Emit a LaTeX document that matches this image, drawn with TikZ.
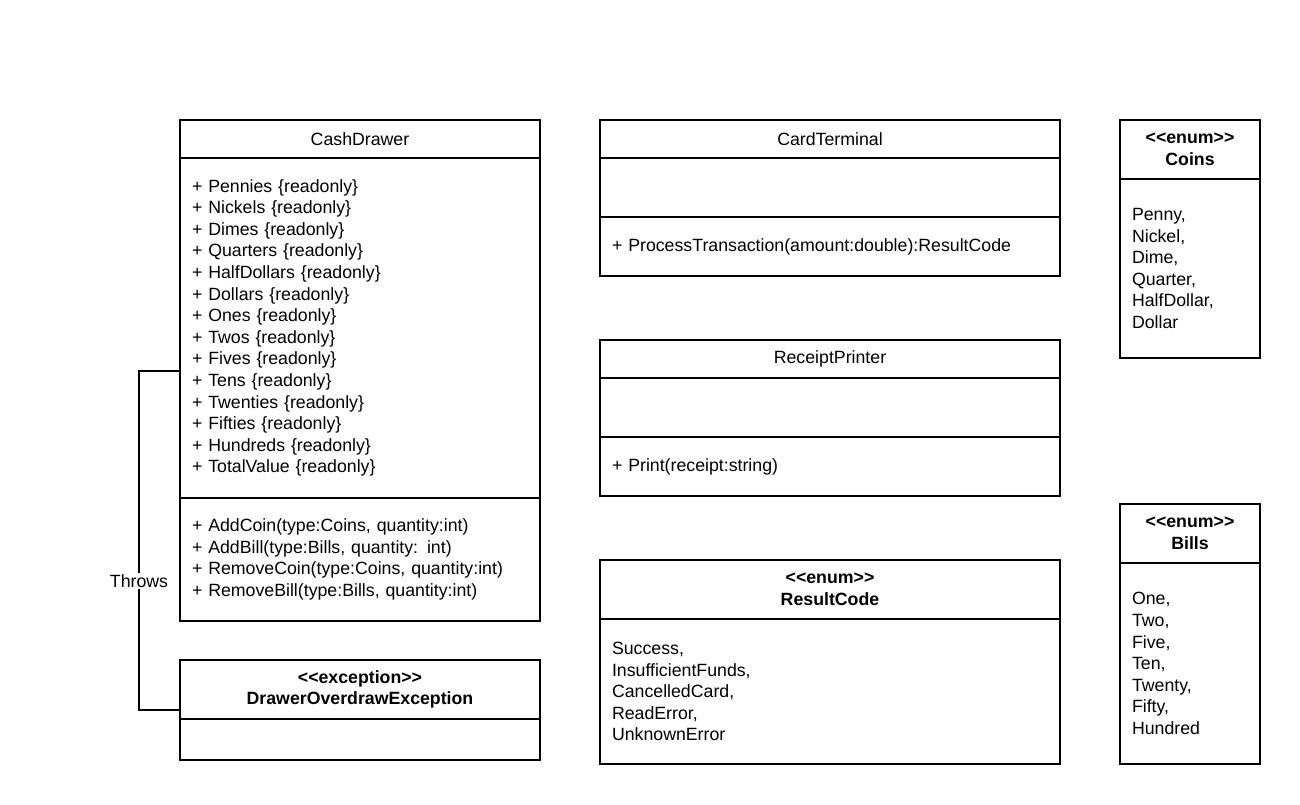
\documentclass[tikz,border=0pt]{standalone}
\usepackage{fontspec}
\setmainfont{Liberation Sans}
\usetikzlibrary{positioning,calc}
\def\boxsep{0pt}
\def\stereo#1{\textless\kern0pt\textless#1\textgreater\kern0pt\textgreater}

\begin{document}
\begin{tikzpicture}[x=0.75pt,y=-0.75pt,line width=1.1pt,node distance=\boxsep]
            \tikzstyle{compartment}=[draw,rectangle,outer sep=0pt,inner xsep=9pt,inner ysep=0pt,font=\fontsize{13.3pt}{16.2pt}\selectfont]
            \tikzstyle{head}=[compartment,align=center,anchor=north west]
            \tikzstyle{body}=[compartment,align=left]

            \useasboundingbox (0,0) rectangle (1300,804);

            % Draw the CashDrawer class
            \node[head, text width=252pt, minimum height=28.5pt] (CashDrawer) at (180,120) {CashDrawer};
            \node[body, text width=252pt, minimum height=255pt, below=of CashDrawer] (CashAttr)
                {+ Pennies \{readonly\}\\+ Nickels \{readonly\}\\+ Dimes \{readonly\}\\+ Quarters \{readonly\}\\
                 + HalfDollars \{readonly\}\\+ Dollars \{readonly\}\\+ Ones \{readonly\}\\+ Twos \{readonly\}\\
                 + Fives \{readonly\}\\+ Tens \{readonly\}\\+ Twenties \{readonly\}\\+ Fifties \{readonly\}\\
                 + Hundreds \{readonly\}\\+ TotalValue \{readonly\}};
            \node[body, text width=252pt, minimum height=92.25pt, below=of CashAttr] (CashOps)
                {+ AddCoin(type:Coins, quantity:int)\\+ AddBill(type:Bills, quantity: int)\\
                 + RemoveCoin(type:Coins, quantity:int)\\+ RemoveBill(type:Bills, quantity:int)};

            % Draw the exception
            \node[head, text width=252pt, minimum height=44.25pt, font=\fontsize{13.3pt}{16.2pt}\selectfont\bfseries] (Exception) at (180,660)
                {\stereo{exception}\\DrawerOverdrawException};
            \node[body, text width=252pt, minimum height=30.75pt, below=of Exception] (ExceptionBody) {};

            % Draw the CardTerminal and ReceiptPrinter classes
            \node[head, text width=327pt, minimum height=28.5pt] (CardTerminal) at (600,120) {CardTerminal};
            \node[body, text width=327pt, minimum height=44.25pt, below=of CardTerminal] (CardAttr) {};
            \node[body, text width=327pt, minimum height=44.25pt, below=of CardAttr] (CardOps)
                {+ ProcessTransaction(amount:double):ResultCode};

            \node[head, text width=327pt, minimum height=28.5pt] (ReceiptPrinter) at (600,340) {ReceiptPrinter};
            \node[body, text width=327pt, minimum height=44.25pt, below=of ReceiptPrinter] (PrinterAttr) {};
            \node[body, text width=327pt, minimum height=44.25pt, below=of PrinterAttr] (PrinterOps)
                {+ Print(receipt:string)};

            % Draw the enums
            \node[head, text width=327pt, minimum height=44.25pt, font=\fontsize{13.3pt}{16.2pt}\selectfont\bfseries] (ResultCode) at (600,560)
                {\stereo{enum}\\ResultCode};
            \node[body, text width=327pt, minimum height=108.75pt, below=of ResultCode] (ResultValues)
                {Success,\\InsufficientFunds,\\CancelledCard,\\ReadError,\\UnknownError};

            \node[head, text width=87pt, minimum height=44.25pt, font=\fontsize{13.3pt}{16.2pt}\selectfont\bfseries] (Coins) at (1120,120)
                {\stereo{enum}\\Coins};
            \node[body, text width=87pt, minimum height=134.25pt, below=of Coins] (CoinValues)
                {Penny,\\Nickel,\\Dime,\\Quarter,\\HalfDollar,\\Dollar};

            \node[head, text width=87pt, minimum height=44.25pt, font=\fontsize{13.3pt}{16.2pt}\selectfont\bfseries] (Bills) at (1120,504)
                {\stereo{enum}\\Bills};
            \node[body, text width=87pt, minimum height=150.75pt, below=of Bills] (BillValues)
                {One,\\Two,\\Five,\\Ten,\\Twenty,\\Fifty,\\Hundred};

            % Throws connector
            \coordinate (ThrowsFrom) at (180,371);
            \coordinate (ThrowsTo) at ($(Exception.north west)!0.5!(ExceptionBody.south west)$);
            \draw (ThrowsFrom) -- ++(-41,0) |- (ThrowsTo)
                node[pos=0.31, fill=white, inner sep=1pt, font=\fontsize{13.3pt}{16.2pt}\selectfont] (ThrowsLabel) {Throws};
        \end{tikzpicture}
\end{document}
